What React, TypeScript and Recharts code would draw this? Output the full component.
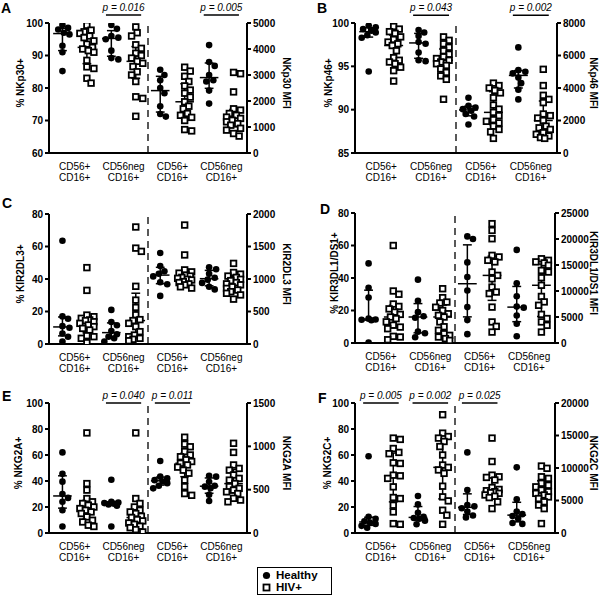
import React from 'react'
import { ScatterChart, Scatter, XAxis, YAxis, ReferenceLine } from 'recharts'

const FONT = '"Liberation Sans", Arial, Helvetica, sans-serif'

// x slots: 1-4 = % positive (left axis), 5-8 = MFI (right axis)
// order in each half: CD56+CD16+ healthy, HIV+, CD56negCD16+ healthy, HIV+
const subsetLabels = [['CD56+', 'CD16+'], ['CD56neg', 'CD16+']]

// every array below: [CD56+CD16+ values, CD56negCD16+ values]

// A - NKp30
const nkp30PctHealthy = [
  [99.4, 98.5, 98, 97, 96.5, 93, 91, 85.2],
  [99.4, 98.2, 96, 95.5, 95, 91.5, 89.2, 88.8]
]
const nkp30PctHiv = [
  [99.3, 97.8, 97.3, 96.8, 96, 95.5, 94.5, 93.5, 92.5, 92, 91.5, 91, 88.5, 86.5, 86, 83, 81.5],
  [98.8, 97, 96, 93.3, 92.2, 90.7, 90, 89.2, 88.2, 87.6, 86.6, 85, 84, 82, 77.3, 76.8, 71.3]
]
const nkp30MfiHealthy = [
  [3200, 3000, 2800, 2500, 2300, 1800, 1500, 1400],
  [4150, 3500, 3350, 3000, 2800, 2750, 2400, 1900]
]
const nkp30MfiHiv = [
  [3300, 3150, 2950, 2750, 2580, 2420, 2300, 2150, 1970, 1800, 1700, 1520, 1450, 1370, 1250, 900, 850],
  [3100, 3050, 2350, 1700, 1650, 1520, 1450, 1380, 1330, 1260, 1200, 1130, 1070, 950, 880, 750, 650]
]
const nkp30P = [
  { from: 3, to: 4, text: 'p = 0.016' },
  { from: 7, to: 8, text: 'p = 0.005' }
]

// B - NKp46
const nkp46PctHealthy = [
  [99.7, 99.5, 99.3, 99.1, 98.9, 98.6, 98.3, 94.4],
  [99.2, 98.9, 98.5, 97.8, 97.6, 96.6, 95.7, 95.6]
]
const nkp46PctHiv = [
  [99.6, 99.3, 99.0, 98.8, 98.4, 98.1, 97.8, 97.6, 97.4, 96.8, 96.0, 95.7, 95.5, 95.3, 94.9, 94.5, 93.3],
  [98.4, 98.0, 97.6, 97.2, 96.8, 96.4, 96.1, 95.9, 95.7, 95.5, 95.3, 95.1, 94.7, 94.3, 93.9, 93.5, 91.2]
]
const nkp46MfiHealthy = [
  [3400, 2900, 2800, 2700, 2600, 2400, 2250, 1750],
  [6500, 5100, 5000, 4900, 4650, 4300, 3900, 3300]
]
const nkp46MfiHiv = [
  [4300, 4150, 4000, 3850, 3700, 3400, 2950, 2700, 2500, 2300, 2050, 1950, 1850, 1650, 1450, 1300, 900],
  [5150, 4150, 3550, 3300, 3100, 2400, 2300, 2150, 2000, 1650, 1550, 1450, 1250, 1150, 1050, 950, 900]
]
const nkp46P = [
  { from: 3, to: 4, text: 'p = 0.043' },
  { from: 7, to: 8, text: 'p = 0.002' }
]

// C - KIR2DL3
const kir2dl3PctHealthy = [
  [63.5, 17, 15.5, 11, 10, 6.5, 4.5, 1.5],
  [21, 13.5, 11.5, 8, 6, 4.5, 3.5, 1.5]
]
const kir2dl3PctHiv = [
  [47, 33, 17.8, 16.8, 15.8, 14.8, 14.4, 13.7, 12.7, 11.7, 10.7, 9.6, 8.6, 5.1, 4.5, 3.5, 0.8],
  [72, 59, 57, 35.5, 27, 22.5, 18, 15, 14.4, 12.7, 10.7, 7.6, 5.5, 4.5, 3.5, 2.9, 2]
]
const kir2dl3MfiHealthy = [
  [1400, 1200, 1120, 1080, 1040, 950, 920, 740],
  [1180, 1150, 1080, 1020, 990, 940, 880, 840]
]
const kir2dl3MfiHiv = [
  [1830, 1370, 1140, 1110, 1090, 1060, 1045, 1025, 1010, 995, 985, 960, 945, 925, 910, 880, 860],
  [1240, 1100, 1075, 1045, 1025, 995, 975, 945, 925, 910, 880, 855, 830, 805, 780, 755, 690]
]

// D - KIR3DL1/DS1
const kir3dl1PctHealthy = [
  [49, 34, 28, 15, 14.5, 14.3, 14, 0.3],
  [39, 26, 19, 16.5, 15.5, 7, 6, 3.5]
]
const kir3dl1PctHiv = [
  [60, 32, 30, 24, 22.5, 21, 19, 17.6, 16, 15, 13, 11, 9.8, 8.8, 4.1, 3.7, 2],
  [33.4, 27.9, 25.2, 24.6, 22, 20, 18, 17, 16, 13, 10, 7.8, 5.7, 4.7, 3.7, 2.7, 1.6]
]
const kir3dl1MfiHealthy = [
  [20500, 20000, 15500, 12700, 10100, 6900, 4400, 1700],
  [17900, 11500, 9000, 7000, 6800, 5300, 3700, 1300]
]
const kir3dl1MfiHiv = [
  [22950, 21650, 20050, 16850, 16550, 15900, 15600, 13650, 13000, 12350, 10750, 9800, 9500, 6900, 4050, 3200, 2100],
  [16200, 15900, 15600, 15400, 14950, 13950, 13650, 12550, 11100, 8950, 7900, 7250, 5500, 4700, 4050, 3400, 2100]
]

// E - NKG2A
const nkg2aPctHealthy = [
  [62, 45.5, 39.5, 30, 27, 24, 17.5, 5],
  [41, 24, 23.5, 23, 22.5, 22, 21, 5]
]
const nkg2aPctHiv = [
  [77, 38, 33, 26.5, 24, 22.7, 21.4, 20, 18.8, 17.5, 16.2, 15, 12.4, 9.8, 8.5, 6, 5],
  [77, 26.5, 22.7, 20, 17.5, 16.2, 15, 12.9, 11.9, 10.3, 9.3, 7.7, 6.7, 5.2, 4.1, 2.6, 0.8]
]
const nkg2aMfiHealthy = [
  [830, 650, 630, 610, 595, 575, 545, 515],
  [660, 650, 590, 545, 535, 515, 440, 370]
]
const nkg2aMfiHiv = [
  [1105, 1025, 995, 940, 900, 880, 845, 825, 805, 785, 760, 725, 690, 610, 535, 455, 435],
  [1035, 930, 785, 745, 725, 670, 630, 610, 570, 535, 515, 495, 475, 455, 400, 380, 360]
]
const nkg2aP = [
  { from: 3, to: 4, text: 'p = 0.040' },
  { from: 5, to: 6, text: 'p = 0.011' }
]

// F - NKG2C
const nkg2cPctHealthy = [
  [59, 12.5, 11, 9, 8, 7, 5.5, 4],
  [28.5, 22, 15.5, 12.5, 11.5, 11, 9.5, 6.7]
]
const nkg2cPctHiv = [
  [73, 72, 65, 62, 61, 54, 53.5, 44.5, 44, 42, 35.5, 27.3, 26.5, 21.4, 16.2, 7.2, 6.7],
  [91, 76.8, 74.2, 73, 70.4, 66.5, 60, 52.3, 50.5, 48.5, 45.9, 36, 27.8, 24.7, 17.5, 13.7, 6.7]
]
const nkg2cMfiHealthy = [
  [12400, 6600, 4300, 4100, 3800, 3300, 2700, 2400],
  [10100, 5200, 3300, 2900, 2600, 2200, 1550, 1400]
]
const nkg2cMfiHiv = [
  [14600, 11000, 8900, 8650, 8550, 8150, 7000, 6700, 6500, 6350, 6200, 6100, 5850, 5650, 5450, 4800, 3750],
  [10300, 9950, 8650, 8400, 7650, 7350, 7100, 6600, 6350, 6100, 5850, 5550, 5300, 4800, 4300, 3750, 1450]
]
const nkg2cP = [
  { from: 1, to: 2, text: 'p = 0.005' },
  { from: 3, to: 4, text: 'p = 0.002' },
  { from: 5, to: 6, text: 'p = 0.025' }
]

const X_DOMAIN = [0.45, 8.55]
const PLOT_H = 130

const panels = [
  {
    letter: 'A', left: 0, top: 0, letterX: 1, letterY: 0, marginTop: 23, leftW: 49, rightW: 53, leftTitleX: 23.5, rightTitleX: 36,
    pctLabel: '% NKp30+', mfiLabel: 'NKp30 MFI',
    pctDomain: [60, 100], pctTicks: [60, 70, 80, 90, 100],
    mfiDomain: [0, 5000], mfiTicks: [0, 1000, 2000, 3000, 4000, 5000],
    pctH: nkp30PctHealthy, pctV: nkp30PctHiv, mfiH: nkp30MfiHealthy, mfiV: nkp30MfiHiv,
    pvals: nkp30P, pLineY: 102.5
  },
  {
    letter: 'B', left: 300, top: 0, letterX: 17, letterY: 0, marginTop: 23, leftW: 55, rightW: 43, leftTitleX: 31.5, rightTitleX: 33,
    pctLabel: '% NKp46+', mfiLabel: 'NKp46 MFI',
    pctDomain: [85, 100], pctTicks: [85, 90, 95, 100],
    mfiDomain: [0, 8000], mfiTicks: [0, 2000, 4000, 6000, 8000],
    pctH: nkp46PctHealthy, pctV: nkp46PctHiv, mfiH: nkp46MfiHealthy, mfiV: nkp46MfiHiv,
    pvals: nkp46P, pLineY: 100.9
  },
  {
    letter: 'C', left: 0, top: 190, letterX: 2, letterY: 5, marginTop: 24, leftW: 49, rightW: 53, leftTitleX: 23.5, rightTitleX: 36,
    pctLabel: '% KIR2DL3+', mfiLabel: 'KIR2DL3 MFI',
    pctDomain: [0, 80], pctTicks: [0, 20, 40, 60, 80],
    mfiDomain: [0, 2000], mfiTicks: [0, 500, 1000, 1500, 2000],
    pctH: kir2dl3PctHealthy, pctV: kir2dl3PctHiv, mfiH: kir2dl3MfiHealthy, mfiV: kir2dl3MfiHiv,
    pvals: [], pLineY: 100
  },
  {
    letter: 'D', left: 300, top: 190, letterX: 20, letterY: 11, marginTop: 23, leftW: 55, rightW: 45, leftTitleX: 37.5, rightTitleX: 35,
    pctLabel: '% KIR3DL1/DS1+', mfiLabel: 'KIR3DL1/DS1 MFI',
    pctDomain: [0, 80], pctTicks: [0, 20, 40, 60, 80],
    mfiDomain: [0, 25000], mfiTicks: [0, 5000, 10000, 15000, 20000, 25000],
    pctH: kir3dl1PctHealthy, pctV: kir3dl1PctHiv, mfiH: kir3dl1MfiHealthy, mfiV: kir3dl1MfiHiv,
    pvals: [], pLineY: 100
  },
  {
    letter: 'E', left: 0, top: 380, letterX: 2, letterY: 8, marginTop: 23, leftW: 49, rightW: 53, leftTitleX: 21.5, rightTitleX: 36,
    pctLabel: '% NKG2A+', mfiLabel: 'NKG2A MFI',
    pctDomain: [0, 100], pctTicks: [0, 20, 40, 60, 80, 100],
    mfiDomain: [0, 1500], mfiTicks: [0, 500, 1000, 1500],
    pctH: nkg2aPctHealthy, pctV: nkg2aPctHiv, mfiH: nkg2aMfiHealthy, mfiV: nkg2aMfiHiv,
    pvals: nkg2aP, pLineY: 100
  },
  {
    letter: 'F', left: 300, top: 380, letterX: 18, letterY: 10, marginTop: 23, leftW: 55, rightW: 45, leftTitleX: 30.5, rightTitleX: 35,
    pctLabel: '% NKG2C+', mfiLabel: 'NKG2C MFI',
    pctDomain: [0, 100], pctTicks: [0, 20, 40, 60, 80, 100],
    mfiDomain: [0, 20000], mfiTicks: [0, 5000, 10000, 15000, 20000],
    pctH: nkg2cPctHealthy, pctV: nkg2cPctHiv, mfiH: nkg2cMfiHealthy, mfiV: nkg2cMfiHiv,
    pvals: nkg2cP, pLineY: 100
  }
]

// GraphPad style quartiles (n+1 method)
function quantile(sorted: number[], p: number) {
  const n = sorted.length
  const pos = p * (n + 1)
  if (pos <= 1) return sorted[0]
  if (pos >= n) return sorted[n - 1]
  const i = Math.floor(pos)
  return sorted[i - 1] + (pos - i) * (sorted[i] - sorted[i - 1])
}

// small beeswarm: nudge points sideways (max ~7px) so they overlap less
function swarm(vals: number[], yPx: number, xPx: number, gap: number) {
  const placed: [number, number][] = []
  return vals.map(v => {
    const py = v * yPx
    let best = 0
    let bestD = -1
    for (let k = 0; k < 11; k++) {
      const dx = (k % 2 ? 1 : -1) * Math.ceil(k / 2) * 1.4
      const d = placed.reduce((m, [qx, qy]) => Math.min(m, Math.hypot(qx - dx, qy - py)), Infinity)
      if (d >= gap) { best = dx; break }
      if (d > bestD) { bestD = d; best = dx }
    }
    placed.push([best, py])
    return best / xPx
  })
}

const Dot = (props: any) => <circle cx={props.cx} cy={props.cy} r={3.3} fill='#000' />
const Square = (props: any) => (
  <rect x={props.cx - 2.8} y={props.cy - 2.8} width={5.6} height={5.6} fill='#fff' stroke='#000' strokeWidth={1.8} />
)

const PairTick = (props: any) => {
  const { x, y, payload } = props
  const lines = subsetLabels[Math.round((payload.value - 1.5) / 2) % 2]
  return (
    <text x={x} y={y} textAnchor='middle' fontSize={10} fontFamily={FONT} fill='#000'>
      <tspan x={x} dy={11}>{lines[0]}</tspan>
      <tspan x={x} dy={11}>{lines[1]}</tspan>
    </text>
  )
}

const yTitle = (text: string, dx: number, angle: number) => (props: any) => {
  const { x, y, height } = props.viewBox
  const cx = x + dx
  const cy = y + height / 2 - 5
  return (
    <text x={cx} y={cy} transform={`rotate(${angle} ${cx} ${cy})`} textAnchor='middle'
      fontSize={10} fontWeight='bold' fontFamily={FONT} fill='#000'>{text}</text>
  )
}

const axisLine = { stroke: '#000', strokeWidth: 2 }
const tickStyle = { fontSize: 10, fontWeight: 'bold', fill: '#000', fontFamily: FONT }

function Panel({ p }: { p: any }) {
  const plotW = 300 - p.leftW - p.rightW
  const xPx = plotW / (X_DOMAIN[1] - X_DOMAIN[0])
  const pctPx = PLOT_H / (p.pctDomain[1] - p.pctDomain[0])
  const mfiPx = PLOT_H / (p.mfiDomain[1] - p.mfiDomain[0])

  const hPct: any[] = [], vPct: any[] = [], hMfi: any[] = [], vMfi: any[] = []
  const stats: any[] = []
  const add = (vals: number[], x: number, axis: string, unitPx: number, gap: number, out: any[]) => {
    const offs = swarm(vals, unitPx, xPx, gap)
    vals.forEach((v, i) => out.push({ x: x + offs[i], y: v }))
    const s = [...vals].sort((a, b) => a - b)
    stats.push({ x, axis, med: quantile(s, 0.5), q1: quantile(s, 0.25), q3: quantile(s, 0.75) })
  }
  ;[0, 1].forEach(i => {
    add(p.pctH[i], 1 + 2 * i, 'pct', pctPx, 6, hPct)
    add(p.pctV[i], 2 + 2 * i, 'pct', pctPx, 6, vPct)
    add(p.mfiH[i], 5 + 2 * i, 'mfi', mfiPx, 6, hMfi)
    add(p.mfiV[i], 6 + 2 * i, 'mfi', mfiPx, 6, vMfi)
  })

  const seg = (key: string, axis: string, x1: number, y1: number, x2: number, y2: number) => (
    <ReferenceLine key={key} xAxisId='g' yAxisId={axis} segment={[{ x: x1, y: y1 }, { x: x2, y: y2 }]}
      stroke='#000' strokeWidth={1.5} ifOverflow='visible' />
  )

  const labelH = 190 - p.marginTop - PLOT_H - 6

  return (
    <div style={{ position: 'absolute', left: p.left, top: p.top, width: 300, height: 190 }}>
      <div style={{ position: 'absolute', left: p.letterX, top: p.letterY, fontFamily: FONT, fontWeight: 'bold', fontSize: 14, lineHeight: '16px' }}>
        {p.letter}
      </div>
      <ScatterChart width={300} height={190} margin={{ top: p.marginTop, right: 0, bottom: 0, left: 0 }}>
        <XAxis xAxisId='g' type='number' dataKey='x' domain={X_DOMAIN} ticks={[1, 2, 3, 4, 5, 6, 7, 8]}
          interval={0} tick={false} height={6} tickSize={4} axisLine={axisLine} tickLine={axisLine} allowDataOverflow />
        <XAxis xAxisId='lab' type='number' dataKey='x' domain={X_DOMAIN} ticks={[1.5, 3.5, 5.5, 7.5]}
          interval={0} height={labelH} tickSize={0} tickMargin={0} axisLine={false} tickLine={false}
          tick={(t: any) => <PairTick {...t} />} allowDataOverflow />
        <YAxis yAxisId='pct' dataKey='y' width={p.leftW} domain={p.pctDomain} ticks={p.pctTicks} interval={0}
          tickSize={4} tickMargin={2} axisLine={axisLine} tickLine={axisLine} tick={tickStyle} allowDataOverflow
          label={yTitle(p.pctLabel, p.leftTitleX, -90)} />
        <YAxis yAxisId='mfi' dataKey='y' orientation='right' width={p.rightW} domain={p.mfiDomain} ticks={p.mfiTicks}
          interval={0} tickSize={4} tickMargin={2} axisLine={axisLine} tickLine={axisLine} tick={tickStyle} allowDataOverflow
          label={yTitle(p.mfiLabel, p.rightTitleX, 90)} />

        <ReferenceLine xAxisId='g' yAxisId='pct' x={4.5} stroke='#000' strokeWidth={1.3} strokeDasharray='7 5' />

        <Scatter xAxisId='g' yAxisId='pct' name='Healthy' data={hPct} shape={Dot} isAnimationActive={false} />
        <Scatter xAxisId='g' yAxisId='pct' name='HIV+' data={vPct} shape={Square} isAnimationActive={false} />
        <Scatter xAxisId='g' yAxisId='mfi' name='Healthy' data={hMfi} shape={Dot} isAnimationActive={false} />
        <Scatter xAxisId='g' yAxisId='mfi' name='HIV+' data={vMfi} shape={Square} isAnimationActive={false} />

        {stats.flatMap((s, i) => [
          seg(`v${i}`, s.axis, s.x, s.q1, s.x, s.q3),
          seg(`l${i}`, s.axis, s.x - 0.18, s.q1, s.x + 0.18, s.q1),
          seg(`u${i}`, s.axis, s.x - 0.18, s.q3, s.x + 0.18, s.q3),
          seg(`m${i}`, s.axis, s.x - 0.38, s.med, s.x + 0.38, s.med)
        ])}

        {p.pvals.map((pv: any, i: number) => (
          <ReferenceLine key={`p${i}`} xAxisId='g' yAxisId='pct' ifOverflow='visible'
            segment={[{ x: pv.from - 0.22, y: p.pLineY }, { x: pv.to + 0.22, y: p.pLineY }]}
            stroke='#000' strokeWidth={1.5}
            label={{ value: pv.text, position: 'top', offset: 4, fontSize: 10, fontStyle: 'italic', fill: '#000', fontFamily: FONT }} />
        ))}
      </ScatterChart>
    </div>
  )
}

export default function App() {
  return (
    <div style={{ position: 'absolute', left: 0, top: 0, width: 600, height: 600, background: '#fff' }}>
      {panels.map(p => <Panel key={p.letter} p={p} />)}
      <div style={{ position: 'absolute', left: 257, top: 567, width: 73, height: 26, border: '1.5px solid #000', fontFamily: FONT, fontWeight: 'bold', fontSize: 11.5 }}>
        <div style={{ position: 'absolute', left: 4, top: 1, lineHeight: '12px', display: 'flex', alignItems: 'center', gap: 5 }}>
          <svg width={9} height={9}><circle cx={4.5} cy={4.5} r={3.6} fill='#000' /></svg>
          <span>Healthy</span>
        </div>
        <div style={{ position: 'absolute', left: 4, top: 13, lineHeight: '12px', display: 'flex', alignItems: 'center', gap: 5 }}>
          <svg width={9} height={9}><rect x={1.5} y={1.5} width={6} height={6} fill='#fff' stroke='#000' strokeWidth={1.8} /></svg>
          <span>HIV+</span>
        </div>
      </div>
    </div>
  )
}
